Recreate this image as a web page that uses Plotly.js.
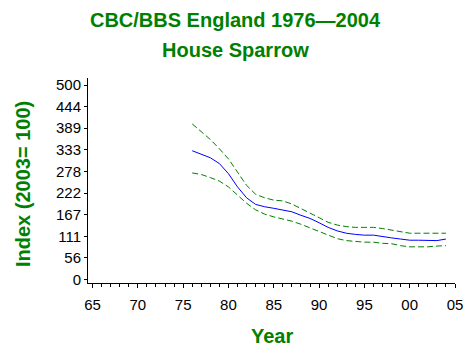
<!DOCTYPE html>
<html>
<head>
<meta charset="utf-8">
<script src="https://cdn.plot.ly/plotly-3.0.1.min.js"></script>
<style>html,body{margin:0;padding:0;background:#fff;}#chart{width:470px;height:353px;}</style>
</head>
<body>
<div id="chart"></div>
<script>
const years = [1976,1977,1978,1979,1980,1981,1982,1983,1984,1985,1986,1987,1988,1989,1990,1991,1992,1993,1994,1995,1996,1997,1998,1999,2000,2001,2002,2003,2004];
const indexValues = [331,323,313,298,272,238,210,193,187,183,179,174,165,157,146,134,125,119,116,114,114,110,107,104,101,101,101,100,104];
const upperValues = [400,381,360,336,310,276,242,219,210,204,202,194,183,172,159,147,140,136,134,134,134,131,127,122,119,119,119,119,119];
const lowerValues = [274,270,262,253,238,217,196,179,168,161,156,150,142,133,123,113,105,100,98,96,96,93,92,87,84,84,84,86,87];
const xTickVals = [1965,1970,1975,1980,1985,1990,1995,2000,2005];
const xTickText = ["65","70","75","80","85","90","95","00","05"];
const yTickVals = [0,55.56,111.11,166.67,222.22,277.78,333.33,388.89,444.44,500];
const yTickText = ["0","56","111","167","222","278","333","389","444","500"];

const green = '#008000';
const traces = [
  {x: years, y: upperValues, type: 'scatter', mode: 'lines', line: {color: green, width: 1, dash: '6px,3px'}, hoverinfo: 'skip'},
  {x: years, y: lowerValues, type: 'scatter', mode: 'lines', line: {color: green, width: 1, dash: '6px,3px'}, hoverinfo: 'skip'},
  {x: years, y: indexValues, type: 'scatter', mode: 'lines', line: {color: '#0000ff', width: 1}, hoverinfo: 'skip'}
];

const L = 88, T = 78, W = 367, H = 205;
const px = v => (v - L) / W;
const py = v => (T + H - v) / H;
const tickFont = {family: 'Liberation Sans, Arial, sans-serif', size: 15, color: '#000'};
const titleFont = {family: 'Liberation Sans, Arial, sans-serif', size: 20, color: green};

const layout = {
  width: 470, height: 353,
  margin: {l: L, r: 470 - L - W, t: T, b: 353 - T - H, pad: 0},
  paper_bgcolor: '#fff', plot_bgcolor: '#fff',
  showlegend: false,
  title: {text: '<b>CBC/BBS England 1976\u20142004</b>', font: titleFont, x: 0.5, xanchor: 'center', xref: 'container', y: 1 - 20/353, yanchor: 'middle', yref: 'container'},
  xaxis: {
    range: [1964.5, 2005], showgrid: false, zeroline: false,
    showline: true, linecolor: '#000', linewidth: 1,
    tickmode: 'array', tickvals: xTickVals, ticktext: xTickText,
    ticks: 'outside', ticklen: 4, tickcolor: '#000', tickwidth: 1,
    ticklabelstandoff: 4,
    minor: {tickmode: 'linear', tick0: 1965, dtick: 1, ticks: 'outside', ticklen: 3, tickcolor: '#000', tickwidth: 1, showgrid: false},
    tickfont: tickFont, fixedrange: true
  },
  yaxis: {
    range: [-9, 518], showgrid: false, zeroline: false,
    showline: true, linecolor: '#000', linewidth: 1,
    tickmode: 'array', tickvals: yTickVals, ticktext: yTickText,
    ticks: 'outside', ticklen: 3, tickcolor: '#000', tickwidth: 1,
    tickfont: tickFont, fixedrange: true
  },
  annotations: [
    {text: '<b>House Sparrow</b>', xref: 'paper', yref: 'paper', x: px(235), y: py(50), xanchor: 'center', yanchor: 'middle', showarrow: false, font: titleFont},
    {text: '<b>Year</b>', xref: 'paper', yref: 'paper', x: px(271.5), y: py(336), xanchor: 'center', yanchor: 'middle', showarrow: false, font: {family: 'Liberation Sans, Arial, sans-serif', size: 20, color: green}},
    {text: '<b>Index (2003= 100)</b>', xref: 'paper', yref: 'paper', x: px(23), y: py(184), xanchor: 'center', yanchor: 'middle', textangle: -90, showarrow: false, font: {family: 'Liberation Sans, Arial, sans-serif', size: 20, color: green}}
  ]
};

Plotly.newPlot('chart', traces, layout, {displayModeBar: false, staticPlot: true});
</script>
</body>
</html>
